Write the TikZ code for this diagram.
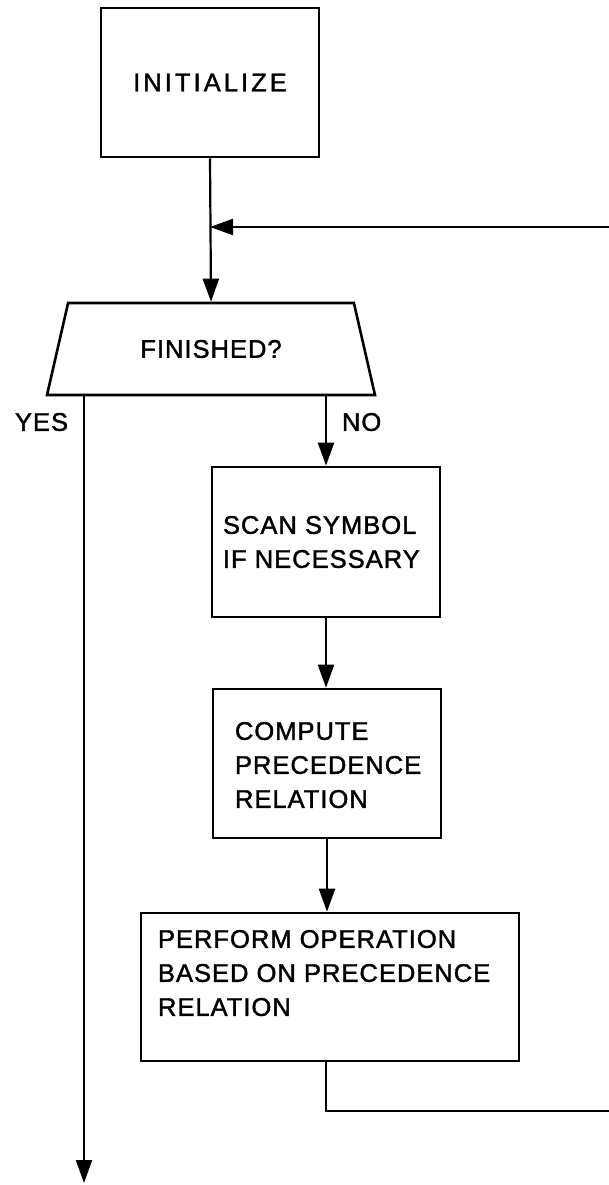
\documentclass[tikz,border=0pt]{standalone}
\usepackage{fontspec}
\newfontfamily\ff[LetterSpace=4,FakeBold=1.6]{Liberation Sans}
\newfontfamily\ffw[LetterSpace=12,FakeBold=1.6]{Liberation Sans}
\usetikzlibrary{shapes.geometric,arrows.meta}
\tikzset{
  stepbox/.style={draw, line width=2.6pt, inner sep=0pt},
  txt/.style={inner sep=0pt, outer sep=0pt, align=left, anchor=north west,
    font={\ff\fontsize{25.5}{34}\selectfont}},
  conn/.style={line width=2.2pt},
  arr/.style={conn, -{Triangle[length=23pt,width=16pt]}},
}
\begin{document}
\begin{tikzpicture}[x=1pt,y=-1pt]
\useasboundingbox (0,0) rectangle (609,1185);
\fill[white] (0,0) rectangle (609,1185);

\node[stepbox, minimum width=218pt, minimum height=149pt,
      font={\ffw\fontsize{25.5}{30}\selectfont}] (init) at (210,82.5) {INITIALIZE};

\node[draw, line width=2.6pt, trapezium, trapezium left angle=60, trapezium right angle=60,
      trapezium stretches=true, minimum width=328pt, minimum height=92pt, inner sep=0pt,
      font={\ff\fontsize{25.5}{30}\selectfont}] (fin) at (211,349) {FINISHED?};

\node[stepbox, minimum width=228pt, minimum height=150pt] (scan) at (326,542) {};
\node[txt] (scantxt) at (223,516) {SCAN SYMBOL\\IF NECESSARY};

\node[stepbox, minimum width=228pt, minimum height=149pt] (comp) at (327,763.5) {};
\node[txt] (comptxt) at (235,722) {COMPUTE\\PRECEDENCE\\RELATION};

\node[stepbox, minimum width=378pt, minimum height=148pt] (perf) at (330,987) {};
\node[txt] (perftxt) at (158,930) {PERFORM OPERATION\\BASED ON PRECEDENCE\\RELATION};

\coordinate (loopT) at (609,227);
\coordinate (loopB) at (609,1111);
\coordinate (yesend) at (84,1183);

\node[txt] (yes) at (15,413) {YES};
\node[txt] (no) at (342,413) {NO};

\draw[arr] (init.south) -- (fin.north);
\draw[arr] (loopT) -- (loopT -| init.south);
\draw[arr] (fin.south -| yesend) -- (yesend);
\draw[arr] (fin.south -| scan.north) -- (scan.north);
\draw[arr] (scan.south) -- (scan.south |- comp.north);
\draw[arr] (comp.south) -- (comp.south |- perf.north);
\draw[conn] (perf.south -| scan.south) -- (scan.south |- loopB) -- (loopB);
\end{tikzpicture}
\end{document}
